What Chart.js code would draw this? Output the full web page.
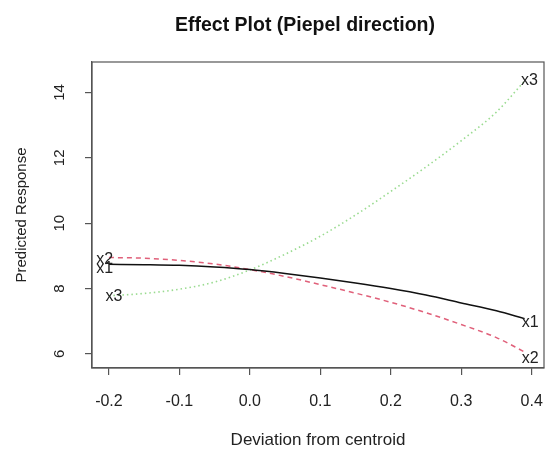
<!DOCTYPE html>
<html>
<head>
<meta charset="utf-8">
<script src="https://cdn.jsdelivr.net/npm/chart.js@4/dist/chart.umd.min.js"></script>
<style>
html,body{margin:0;padding:0;background:#fff;}
#wrap{position:relative;width:546px;height:449px;}
</style>
</head>
<body>
<div id="wrap"><canvas id="c" width="546" height="449"></canvas></div>
<script>
// ---- data ----
const deviation = [-0.2, -0.15, -0.1, -0.05, 0, 0.05, 0.1, 0.15, 0.2, 0.25, 0.3, 0.35, 0.39];
const x1Response = [8.74, 8.73, 8.71, 8.66, 8.58, 8.46, 8.32, 8.17, 8.0, 7.8, 7.56, 7.32, 7.08];
const x2Response = [8.95, 8.93, 8.86, 8.75, 8.58, 8.37, 8.12, 7.86, 7.58, 7.26, 6.9, 6.5, 6.06];
const x3Response = [7.78, 7.85, 7.98, 8.2, 8.57, 9.05, 9.6, 10.25, 10.97, 11.72, 12.52, 13.4, 14.35];
const xTickValues = [-0.2, -0.1, 0.0, 0.1, 0.2, 0.3, 0.4];
const yTickValues = [6, 8, 10, 12, 14];
const seriesNames = ['x1', 'x2', 'x3'];
// label anchors (data units) at curve ends, as placed in the reference
const leftLabelX = [-0.206, -0.206, -0.193];
const leftLabelY = [8.6, 8.89, 7.74];
const rightLabelX = [0.398, 0.398, 0.397];
const rightLabelY = [6.96, 5.86, 14.37];

const FONT = '"Liberation Sans", Arial, sans-serif';
const pts = ys => deviation.map((x, i) => ({x: x, y: ys[i]}));

const boxPlugin = {
  id: 'box',
  afterDraw(chart) {
    const {ctx, chartArea: a, scales} = chart;
    ctx.save();
    ctx.strokeStyle = '#555';
    ctx.lineWidth = 1.2;
    ctx.strokeRect(a.left, a.top, a.right - a.left, a.bottom - a.top);
    // series end labels
    ctx.fillStyle = '#222';
    ctx.font = '16px ' + FONT;
    ctx.textAlign = 'center';
    ctx.textBaseline = 'middle';
    seriesNames.forEach((n, i) => {
      ctx.fillText(n, scales.x.getPixelForValue(leftLabelX[i]), scales.y.getPixelForValue(leftLabelY[i]));
      ctx.fillText(n, scales.x.getPixelForValue(rightLabelX[i]), scales.y.getPixelForValue(rightLabelY[i]));
    });
    // main title centred over plot
    ctx.fillStyle = '#111';
    ctx.font = 'bold 19.5px ' + FONT;
    ctx.textBaseline = 'alphabetic';
    ctx.fillText('Effect Plot (Piepel direction)', (a.left + a.right) / 2 - 13, 31);
    ctx.restore();
  }
};

new Chart(document.getElementById('c'), {
  type: 'line',
  data: {
    datasets: [
      {label: 'x1', data: pts(x1Response), borderColor: '#111', borderWidth: 1.5, pointRadius: 0, cubicInterpolationMode: 'monotone', fill: false},
      {label: 'x2', data: pts(x2Response), borderColor: '#e0607a', borderWidth: 1.5, borderDash: [5, 4], pointRadius: 0, cubicInterpolationMode: 'monotone', fill: false},
      {label: 'x3', data: pts(x3Response), borderColor: '#9adb90', borderWidth: 1.6, borderDash: [1.5, 3], pointRadius: 0, cubicInterpolationMode: 'monotone', fill: false}
    ]
  },
  options: {
    responsive: false,
    animation: false,
    layout: {autoPadding: false, padding: {left: 0, right: 2, top: 62, bottom: 0}},
    plugins: {legend: {display: false}, tooltip: {enabled: false}, title: {display: false}},
    scales: {
      x: {
        type: 'linear', min: -0.224, max: 0.4175,
        afterBuildTicks: s => { s.ticks = xTickValues.map(v => ({value: v})); },
        afterFit: s => { s.height = 81; s.paddingLeft = 0; s.paddingRight = 0; },
        grid: {display: true, drawOnChartArea: false, drawTicks: true, tickLength: 7, color: '#555', lineWidth: 1.2},
        border: {display: true, color: '#555', width: 1.2},
        ticks: {color: '#222', font: {size: 16, family: FONT}, padding: 17, maxRotation: 0,
                callback: v => v.toFixed(1)},
        title: {display: true, text: 'Deviation from centroid', color: '#222', font: {size: 17, family: FONT, lineHeight: 1.0}, padding: {top: 0, bottom: 0}}
      },
      y: {
        type: 'linear', min: 5.57, max: 14.93,
        afterBuildTicks: s => { s.ticks = yTickValues.map(v => ({value: v})); },
        afterFit: s => { s.width = 92; s.paddingTop = 0; s.paddingBottom = 0; },
        grid: {display: true, drawOnChartArea: false, drawTicks: true, tickLength: 7, color: '#555', lineWidth: 1.2},
        border: {display: true, color: '#555', width: 1.2},
        ticks: {color: '#222', font: {size: 15, family: FONT}, padding: 17, minRotation: 90, maxRotation: 90, crossAlign: 'center',
                callback: v => String(v)},
        title: {display: true, text: 'Predicted Response', color: '#222', font: {size: 15, family: FONT}, padding: {top: 13, bottom: 0}}
      }
    }
  },
  plugins: [boxPlugin]
});
</script>
</body>
</html>
